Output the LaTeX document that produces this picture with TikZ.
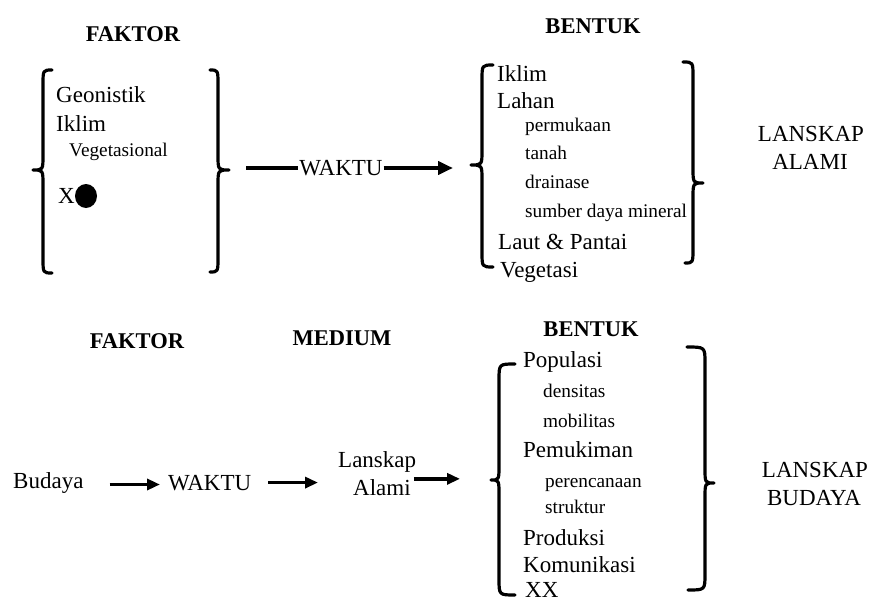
\documentclass[tikz,border=0pt]{standalone}
\usepackage{fontspec}
\setmainfont{Liberation Serif}
\usetikzlibrary{arrows.meta}
\tikzset{
  big/.style={inner sep=0pt, anchor=base west, font=\fontsize{23}{27}\selectfont},
  small/.style={inner sep=0pt, anchor=base west, font=\fontsize{19.3}{23}\selectfont},
  head/.style={inner sep=0pt, anchor=base, font=\bfseries\fontsize{22.5}{26}\selectfont},
  result/.style={inner sep=0pt, anchor=base, font=\fontsize{23}{27}\selectfont},
  bracestroke/.style={line width=3.2pt, line cap=round, line join=round},
  plainline/.style={line width=4pt},
  arr/.style={line width=4pt, -{Triangle[length=15pt,width=13pt]}},
  arrsm/.style={line width=3.6pt, -{Triangle[length=13pt,width=11pt]}}
}
\begin{document}
\begin{tikzpicture}[x=1pt,y=-1pt]
\useasboundingbox (0,0) rectangle (869,604);

% ---------- top part ----------
\node[head] (f1) at (133,42) {FAKTOR};
\node[head] (b1) at (593,34) {BENTUK};

\node[big] (geo) at (56,103) {Geonistik};
\node[big] (ikl1) at (56,132) {Iklim};
\node[small] (veg1) at (69,157) {Vegetasional};
\node[big] (x1) at (58,203) {X};
\fill (86,196) ellipse (11pt and 12pt);

% braces around factors
\draw[bracestroke] (52,70) .. controls (43,70) .. (43,85) -- (43,155) .. controls (43,170) .. (33,170)
  .. controls (43,170) .. (43,185) -- (43,258) .. controls (43,273) .. (52,273);
\draw[bracestroke] (210,70) .. controls (218,70) .. (218,85) -- (218,155) .. controls (218,170) .. (229,170)
  .. controls (218,170) .. (218,185) -- (218,257) .. controls (218,272) .. (210,272);
\coordinate (tlR) at (229,170);

\node[inner sep=1pt, font=\fontsize{23}{27}\selectfont] (w1) at (341,168) {WAKTU};

% braces around forms
\draw[bracestroke] (493,65) .. controls (482,65) .. (482,80) -- (482,150) .. controls (482,165) .. (471,165)
  .. controls (482,165) .. (482,180) -- (482,252) .. controls (482,267) .. (493,267);
\coordinate (trL) at (471,165);
\draw[bracestroke] (683,62) .. controls (693,62) .. (693,77) -- (693,168) .. controls (693,183) .. (703,183)
  .. controls (693,183) .. (693,198) -- (693,248) .. controls (693,263) .. (685,263);

\node[big] (ikl2) at (497,82) {Iklim};
\node[big] (lah) at (497,109) {Lahan};
\node[small] (perm) at (525,132) {permukaan};
\node[small] (tan) at (525,160) {tanah};
\node[small] (drain) at (525,188) {drainase};
\node[small] (sdm) at (525,217) {sumber daya mineral};
\node[big] (laut) at (498,249) {Laut \& Pantai};
\node[big] (veg2) at (500,277) {Vegetasi};

\node[result] (la1) at (811,142) {LANSKAP};
\node[result] (la2) at (810,170) {ALAMI};

\draw[plainline, shorten <=17pt] (w1.west -| tlR) -- (w1.west);
\draw[arr, shorten >=18pt] (w1.east) -- (w1.east -| trL);

% ---------- bottom part ----------
\node[head] (f2) at (137,348) {FAKTOR};
\node[head] (med) at (342,345) {MEDIUM};
\node[head] (b2) at (591,336) {BENTUK};

\node[big] (bud) at (13,488) {Budaya};
\node[big] (w2) at (168,490) {WAKTU};
\node[big] (lan) at (338,467) {Lanskap};
\node[big] (alm) at (353,495) {Alami};

\draw[bracestroke] (515,364) .. controls (499,364) .. (499,380) -- (499,465) .. controls (499,480) .. (491,480)
  .. controls (499,480) .. (499,495) -- (499,579) .. controls (499,595) .. (515,595);
\coordinate (brL) at (491,480);
\draw[bracestroke] (687,347) .. controls (705,347) .. (705,363) -- (705,468) .. controls (705,483) .. (714,483)
  .. controls (705,483) .. (705,498) -- (705,574) .. controls (705,590) .. (688,590);

\node[big] (pop) at (523,367) {Populasi};
\node[small] (dens) at (543,397) {densitas};
\node[small] (mob) at (543,427) {mobilitas};
\node[big] (pem) at (523,457) {Pemukiman};
\node[small] (ren) at (545,487) {perencanaan};
\node[small] (str) at (545,513) {struktur};
\node[big] (prod) at (523,545) {Produksi};
\node[big] (kom) at (523,572) {Komunikasi};
\node[big] (xx) at (525,597) {XX};

\node[result] (lb1) at (815,477) {LANSKAP};
\node[result] (lb2) at (814,505) {BUDAYA};

\draw[arrsm, shorten <=26pt, shorten >=8pt] ([yshift=-2pt]bud.east) -- ([yshift=-2pt]bud.east -| w2.west);
\draw[arrsm, shorten <=17pt, shorten >=20pt] (w2.east) -- (w2.east -| lan.west);
\draw[arrsm, shorten <=3pt, shorten >=31pt] (alm.north east) -- (alm.north east -| brL);
\end{tikzpicture}
\end{document}
